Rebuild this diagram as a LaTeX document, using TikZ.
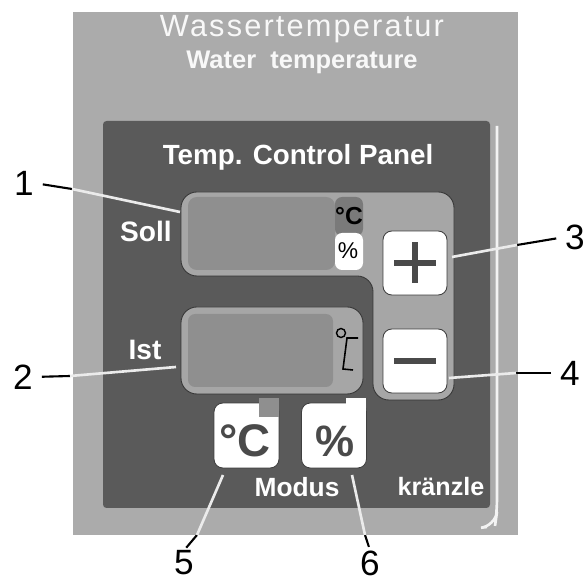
\documentclass[tikz,border=0pt]{standalone}
\usepackage{fontspec}
\setmainfont{Liberation Sans}
\usepackage{tikz}
\usetikzlibrary{positioning}

\definecolor{plategray}{HTML}{ABABAB}
\definecolor{paneldark}{HTML}{5A5A5A}
\definecolor{fieldgray}{HTML}{A6A6A6}
\definecolor{displaygray}{HTML}{8F8F8F}
\definecolor{markdark}{HTML}{4A4A4A}

\tikzset{
	platetext/.style={text=white!92!plategray,inner sep=0pt},
	paneltext/.style={text=white,inner sep=0pt},
	number/.style={text=black,inner sep=0pt,font=\fontsize{20}{20}\selectfont},
	keybox/.style={fill=white,draw=paneldark!70!black,line width=0.5pt,rounded corners=5pt},
	leaderout/.style={black,line width=1.2pt,shorten <=5pt},
	leaderin/.style={white!92!black,line width=1.5pt}
}

\begin{document}
\begin{tikzpicture}[x=0.02cm,y=-0.02cm]

	\useasboundingbox (0,0) rectangle (585,580);
	\fill[white] (0,0) rectangle (585,580);

	% plate and dark panel
	\fill[plategray] (73,12) rectangle (518,535);
	\fill[paneldark,rounded corners=2pt] (103,121) rectangle (490,508);
	\draw[white!85!plategray,line width=1.5pt,rounded corners=8pt] (497,126) -- (497,512) -- (495,526) -- (487,527);

	\node[platetext,font=\fontsize{17.5}{18}\selectfont\addfontfeature{LetterSpace=7}] (wasser) at (302,29) {Wassertemperatur};
	\node[platetext,font=\bfseries\fontsize{14.5}{15}\selectfont] (water) at (302,62) {Water\ \ temperature};
	\node[paneltext,font=\bfseries\fontsize{15.8}{16}\selectfont] (title) at (298,157) {Temp. Control Panel};

	% L-shaped field with the keys
	\fill[fieldgray,draw=paneldark!60!black,line width=0.5pt,rounded corners=9pt]
		(181,192) -- (454,192) -- (454,400) -- (373,400) -- (373,276) -- (181,276) -- cycle;
	\fill[displaygray,rounded corners=5pt] (188,197) rectangle (335,270);
	\fill[displaygray!85!black,rounded corners=4pt] (335,197) rectangle (363,236);
	\fill[white,rounded corners=4pt] (335,233) rectangle (363,270);
	\fill[fieldgray,draw=paneldark!60!black,line width=0.5pt,rounded corners=9pt] (181,307) rectangle (363,394);
	\fill[displaygray,rounded corners=4pt] (188,314) rectangle (333,387);

	\node[text=black,inner sep=0pt,font=\bfseries\fontsize{14}{14}\selectfont] (unitc) at (349,216) {°C};
	\node[text=black,inner sep=0pt,font=\fontsize{13}{13}\selectfont] (unitp) at (348,251) {\%};
	\draw[black,line width=0.8pt] (341,333) circle (4.5);
	\draw[black,line width=0.9pt] (358,338) -- (347,338) -- (343,369) -- (353,370);

	\node[paneltext,font=\bfseries\fontsize{16}{16}\selectfont] (soll) at (146,231) {Soll};
	\node[paneltext,font=\bfseries\fontsize{16}{16}\selectfont] (ist) at (145,350) {Ist};

	\node[keybox,minimum width=1.28cm,minimum height=1.28cm] (plus) at (415,263) {};
	\node[keybox,minimum width=1.28cm,minimum height=1.28cm] (minus) at (415,361) {};
	\fill[markdark] (394,260) rectangle (436,266);
	\fill[markdark] (412,242) rectangle (418,283);
	\fill[markdark] (394,358) rectangle (436,364);

	% mode keys
	\node[keybox,minimum width=1.3cm,minimum height=1.3cm] (keyc) at (246.5,435.5) {};
	\node[keybox,minimum width=1.3cm,minimum height=1.3cm] (keyp) at (334,435.5) {};
	\fill[displaygray] (259,398) rectangle (279,417);
	\fill[white] (346,398) rectangle (366,418);
	\node[text=markdark,inner sep=0pt,font=\bfseries\fontsize{26}{26}\selectfont] (labelc) at (245,441) {°C};
	\node[text=markdark,inner sep=0pt,font=\bfseries\fontsize{25}{25}\selectfont] (labelp) at (335,441) {\%};

	\node[paneltext,font=\bfseries\fontsize{15}{15}\selectfont] (modus) at (297,487) {Modus};
	\node[paneltext,font=\bfseries\fontsize{14.3}{15}\selectfont] (kraenzle) at (441,487) {kränzle};

	% numbers
	\node[number] (n1) at (24,183) {1};
	\node[number] (n2) at (23,377) {2};
	\node[number] (n3) at (575,237) {3};
	\node[number] (n4) at (570,373) {4};
	\node[number] (n5) at (184,563) {5};
	\node[number] (n6) at (370,563) {6};

	\coordinate (e1) at (72,189);
	\coordinate (t1) at (180,212);
	\coordinate (e2) at (70,376);
	\coordinate (t2) at (176,367);
	\coordinate (e3) at (517,245);
	\coordinate (t3) at (452,257);
	\coordinate (e4) at (516,373);
	\coordinate (t4) at (449,378);
	\coordinate (e5) at (197,535);
	\coordinate (t5) at (223,475);
	\coordinate (e6) at (365,535);
	\coordinate (t6) at (352,475);

	\draw[leaderout] (n1.east) -- (e1);
	\draw[leaderin] (e1) -- (t1);
	\draw[leaderout] (n2.east) -- (e2);
	\draw[leaderin] (e2) -- (t2);
	\draw[leaderout] (n3.west) -- (e3);
	\draw[leaderin] (e3) -- (t3);
	\draw[leaderout] (n4.west) -- (e4);
	\draw[leaderin] (e4) -- (t4);
	\draw[leaderout,shorten <=2pt] (n5.north) -- (e5);
	\draw[leaderin] (e5) -- (t5);
	\draw[leaderout,shorten <=2pt] (n6.north) -- (e6);
	\draw[leaderin] (e6) -- (t6);

\end{tikzpicture}
\end{document}
